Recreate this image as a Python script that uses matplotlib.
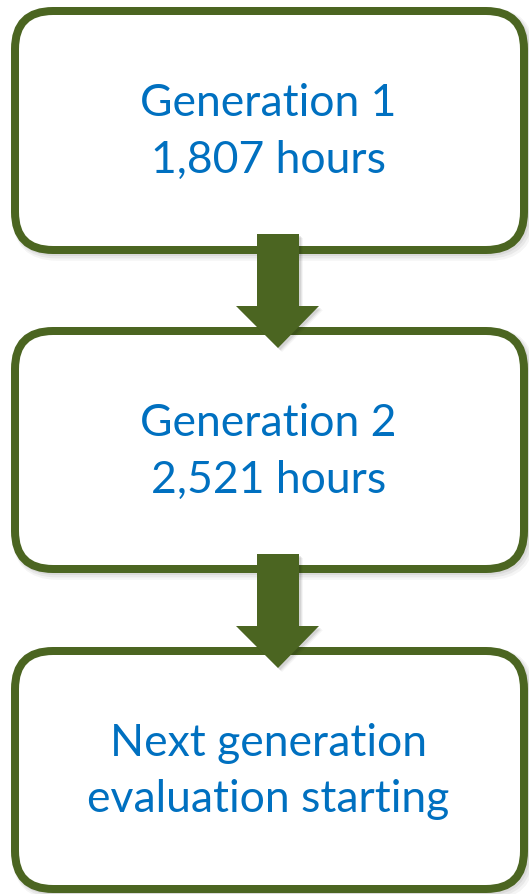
"""Three-step flow: generations of evaluation hours."""

import matplotlib.pyplot as plt
from matplotlib.patches import FancyBboxPatch, Polygon

# box contents, top to bottom
line1 = ['Generation 1', 'Generation 2', 'Next generation']
line2 = ['1,807 hours', '2,521 hours', 'evaluation starting']

# box vertical extents (pixels, centre of the outline)
box_top = [11, 331, 651]
box_bottom = [250, 569, 889]

GREEN = '#4B6521'
BLUE = '#0070C0'
W, H = 529, 894

fig = plt.figure(figsize=(W / 100, H / 100), dpi=100)
ax = fig.add_axes([0, 0, 1, 1])
ax.set_xlim(0, W)
ax.set_ylim(H, 0)
ax.axis('off')

x0, x1 = 15, 524
lw = 8 * 72 / 100


def shadow_box(x, y, w, h):
    for k, a in enumerate([0.06, 0.05, 0.04]):
        off = 2 + k
        ax.add_patch(FancyBboxPatch((x + off, y + off), w, h,
                                    boxstyle='round,pad=0,rounding_size=38',
                                    fc='none', ec='black', lw=lw + 2 * k,
                                    alpha=a, zorder=1))


for i in range(3):
    y0, y1 = box_top[i], box_bottom[i]
    shadow_box(x0, y0, x1 - x0, y1 - y0)
    ax.add_patch(FancyBboxPatch((x0, y0), x1 - x0, y1 - y0,
                                boxstyle='round,pad=0,rounding_size=38',
                                fc='white', ec=GREEN, lw=lw, zorder=2))
    cy = (y0 + y1) / 2
    ax.text(W / 2 + 4, cy - 27, line1[i], ha='center', va='center',
            color=BLUE, fontsize=32, family='Lato', zorder=5)
    ax.text(W / 2 + 4, cy + 30, line2[i], ha='center', va='center',
            color=BLUE, fontsize=32, family='Lato', zorder=5)

# arrows between boxes: shaft top, head start, tip
arrows = [(234, 306, 348), (554, 626, 668)]
sx0, sx1 = 257, 299
hx0, hx1 = 236, 319
tipx = 278
for top, hy, tip in arrows:
    pts = [(sx0, top), (sx1, top), (sx1, hy), (hx1, hy), (tipx, tip),
           (hx0, hy), (sx0, hy)]
    for k, a in enumerate([0.08, 0.06, 0.04]):
        off = 2 + k
        ax.add_patch(Polygon([(px + off, py + off) for px, py in pts],
                             closed=True, fc='black', ec='none', alpha=a,
                             zorder=3))
    ax.add_patch(Polygon(pts, closed=True, fc=GREEN, ec='none', zorder=4))

fig.savefig('out.png', dpi=100)
